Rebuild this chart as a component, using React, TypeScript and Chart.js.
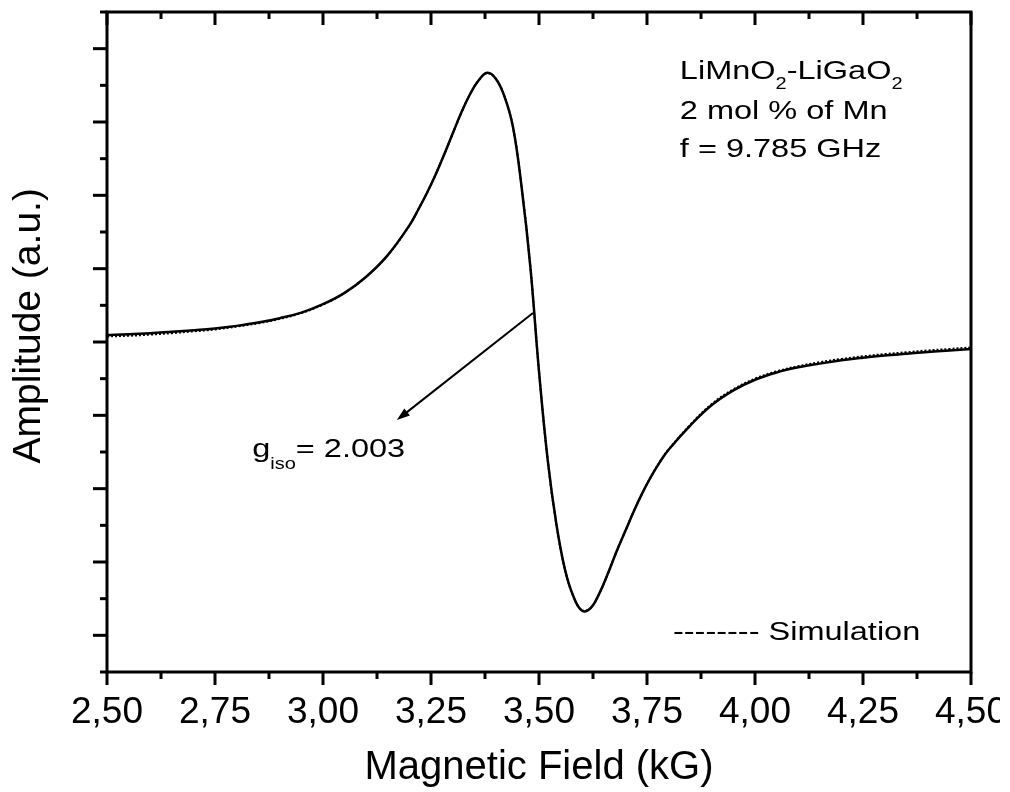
import React, { useEffect, useRef } from 'react';
import { Chart, registerables } from 'chart.js';

Chart.register(...registerables);

// ---- data ----
const fieldKG = [
  2.5, 2.55, 2.6, 2.65, 2.7, 2.75, 2.8, 2.85, 2.9, 2.95, 3.0, 3.05, 3.1, 3.15,
  3.2, 3.22, 3.24, 3.26, 3.28, 3.3, 3.32, 3.34, 3.36, 3.38, 3.4, 3.42, 3.44,
  3.46, 3.48, 3.5, 3.52, 3.54, 3.56, 3.58, 3.6, 3.62, 3.64, 3.66, 3.68, 3.7,
  3.72, 3.74, 3.76, 3.78, 3.8, 3.85, 3.9, 3.95, 4.0, 4.05, 4.1, 4.15, 4.2,
  4.25, 4.3, 4.35, 4.4, 4.45, 4.5,
];
const measured = [
  0.19, 0.21, 0.24, 0.28, 0.32, 0.37, 0.44, 0.53, 0.65, 0.8, 1.03, 1.34, 1.78, 2.37,
  3.18, 3.6, 4.05, 4.55, 5.1, 5.68, 6.25, 6.75, 7.13, 7.34, 7.18, 6.7, 5.85,
  4.2, 2.05, -0.8, -3.2, -4.95, -6.2, -6.95, -7.33, -7.25, -6.85, -6.3, -5.7, -5.15,
  -4.6, -4.1, -3.66, -3.27, -2.94, -2.28, -1.72, -1.32, -1.03, -0.83, -0.69, -0.59, -0.5,
  -0.43, -0.37, -0.32, -0.27, -0.23, -0.19,
];
const simulation = [
  0.15, 0.17, 0.2, 0.24, 0.29, 0.34, 0.42, 0.51, 0.63, 0.79, 1.02, 1.34, 1.78, 2.37,
  3.18, 3.6, 4.05, 4.55, 5.1, 5.68, 6.25, 6.75, 7.13, 7.33, 7.18, 6.7, 5.85,
  4.2, 2.05, -0.8, -3.2, -4.95, -6.2, -6.95, -7.32, -7.25, -6.85, -6.3, -5.7, -5.15,
  -4.6, -4.1, -3.66, -3.26, -2.93, -2.26, -1.69, -1.29, -1.0, -0.8, -0.66, -0.55, -0.46,
  -0.39, -0.33, -0.28, -0.23, -0.19, -0.15,
];
const xMin = 2.5;
const xMax = 4.5;
const xMajorStep = 0.25;
const xMinorStep = 0.125;
const yMin = -9;
const yMax = 9;
const infoLines = ['2 mol % of Mn', 'f = 9.785 GHz'];
const compoundParts = ['LiMnO', '2', '-LiGaO', '2'];
const gLabelParts = ['g', 'iso', '= 2.003'];
const legendText = '-------- Simulation';
const xTitle = 'Magnetic Field (kG)';
const yTitle = 'Amplitude (a.u.)';

// annotation anchors in data units
const infoAnchor = { x: 3.826, y: [7.17, 6.08, 5.05] };
const gAnchor = { x: 2.836, y: -3.14 };
const legendAnchor = { x: 3.81, y: -8.13 };
const arrowFrom = { x: 3.486, y: 0.79 };
const arrowTo = { x: 3.171, y: -2.13 };

const FONT = '"Liberation Sans", Arial, Helvetica, sans-serif';
const STRETCH = 1.25;

const framePlugin = {
  id: 'frameAndNotes',
  afterDraw(chart: any) {
    const { ctx, chartArea: a, scales } = chart;
    const xs = scales.x;
    const ys = scales.y;
    ctx.save();
    ctx.strokeStyle = '#000';
    ctx.fillStyle = '#000';
    ctx.lineWidth = 3;
    ctx.lineCap = 'butt';
    ctx.beginPath();
    ctx.rect(a.left, a.top, a.right - a.left, a.bottom - a.top);
    ctx.stroke();
    const nX = Math.round((xMax - xMin) / xMinorStep);
    for (let i = 0; i <= nX; i++) {
      const v = xMin + i * xMinorStep;
      const px = xs.getPixelForValue(v);
      const major = i % 2 === 0;
      const len = major ? 13 : 7;
      ctx.beginPath();
      ctx.moveTo(px, a.bottom);
      ctx.lineTo(px, a.bottom + len);
      ctx.moveTo(px, a.top);
      ctx.lineTo(px, a.top + len);
      ctx.stroke();
    }
    for (let v = yMin; v <= yMax; v++) {
      const py = ys.getPixelForValue(v);
      const major = Math.abs(v) % 2 === 0;
      const len = major ? 14 : 7;
      ctx.beginPath();
      ctx.moveTo(a.left - len, py);
      ctx.lineTo(a.left, py);
      ctx.stroke();
    }

    // arrow
    const x1 = xs.getPixelForValue(arrowFrom.x);
    const y1 = ys.getPixelForValue(arrowFrom.y);
    const x2 = xs.getPixelForValue(arrowTo.x);
    const y2 = ys.getPixelForValue(arrowTo.y);
    const ang = Math.atan2(y2 - y1, x2 - x1);
    ctx.lineWidth = 2;
    ctx.beginPath();
    ctx.moveTo(x1, y1);
    ctx.lineTo(x2 - 8 * Math.cos(ang), y2 - 8 * Math.sin(ang));
    ctx.stroke();
    ctx.beginPath();
    ctx.moveTo(x2, y2);
    ctx.lineTo(x2 - 13 * Math.cos(ang) + 4.5 * Math.sin(ang), y2 - 13 * Math.sin(ang) - 4.5 * Math.cos(ang));
    ctx.lineTo(x2 - 13 * Math.cos(ang) - 4.5 * Math.sin(ang), y2 - 13 * Math.sin(ang) + 4.5 * Math.cos(ang));
    ctx.closePath();
    ctx.fill();

    const drawStretched = (text: string, x: number, y: number, size: number) => {
      ctx.font = `${size}px ${FONT}`;
      ctx.textBaseline = 'alphabetic';
      ctx.textAlign = 'left';
      ctx.save();
      ctx.translate(x, y);
      ctx.scale(STRETCH, 1);
      ctx.fillText(text, 0, 0);
      ctx.restore();
      return ctx.measureText(text).width * STRETCH;
    };

    const big = 26;
    const small = 16;
    let cx = xs.getPixelForValue(infoAnchor.x);
    const by0 = ys.getPixelForValue(infoAnchor.y[0]);
    compoundParts.forEach((p, i) => {
      if (i % 2 === 1) {
        cx += drawStretched(p, cx, by0 + 10, small);
      } else {
        cx += drawStretched(p, cx, by0, big);
      }
    });
    infoLines.forEach((t, i) => {
      drawStretched(t, xs.getPixelForValue(infoAnchor.x), ys.getPixelForValue(infoAnchor.y[i + 1]), big);
    });

    let gx = xs.getPixelForValue(gAnchor.x);
    const gy = ys.getPixelForValue(gAnchor.y);
    gx += drawStretched(gLabelParts[0], gx, gy, big);
    gx += drawStretched(gLabelParts[1], gx, gy + 12, small);
    drawStretched(gLabelParts[2], gx, gy, big);

    drawStretched(legendText, xs.getPixelForValue(legendAnchor.x), ys.getPixelForValue(legendAnchor.y), big);
    ctx.restore();
  },
};

export default function App() {
  const ref = useRef<HTMLCanvasElement | null>(null);
  useEffect(() => {
    if (!ref.current) return;
    const chart = new Chart(ref.current, {
      type: 'line',
      data: {
        labels: fieldKG,
        datasets: [
          {
            label: 'Simulation',
            data: fieldKG.map((x, i) => ({ x, y: simulation[i] })),
            borderColor: '#000',
            borderWidth: 2,
            borderDash: [2, 2],
            pointRadius: 0,
            fill: false,
            tension: 0.4,
          },
          {
            label: 'Experiment',
            data: fieldKG.map((x, i) => ({ x, y: measured[i] })),
            borderColor: '#000',
            borderWidth: 2.5,
            pointRadius: 0,
            fill: false,
            tension: 0.4,
          },
        ],
      },
      options: {
        responsive: false,
        animation: false,
        devicePixelRatio: 1,
        layout: { padding: { top: 12, right: 29, left: 0, bottom: 0 } },
        plugins: { legend: { display: false }, tooltip: { enabled: false } },
        scales: {
          x: {
            type: 'linear',
            min: xMin,
            max: xMax,
            grid: { display: false },
            border: { display: false },
            ticks: {
              stepSize: xMajorStep,
              autoSkip: false,
              maxRotation: 0,
              padding: 11,
              color: '#000',
              font: { family: FONT, size: 37 },
              callback: (v: any) => Number(v).toFixed(2).replace('.', ','),
            },
            title: {
              display: true,
              text: xTitle,
              color: '#000',
              font: { family: FONT, size: 40 },
              padding: { top: 0, bottom: 0 },
            },
            afterFit: (s: any) => {
              s.height = 120;
              s.paddingLeft = 0;
              s.paddingRight = 0;
            },
          },
          y: {
            type: 'linear',
            min: yMin,
            max: yMax,
            grid: { display: false },
            border: { display: false },
            ticks: { display: false, stepSize: 1 },
            title: {
              display: true,
              text: '   ' + yTitle,
              color: '#000',
              font: { family: FONT, size: 39 },
              padding: { top: 6, bottom: 0 },
            },
            afterFit: (s: any) => {
              s.width = 107;
              s.paddingTop = 0;
              s.paddingBottom = 0;
            },
          },
        },
      },
      plugins: [framePlugin],
    } as any);
    return () => chart.destroy();
  }, []);
  return (
    <div style={{ position: 'fixed', left: 0, top: 0, width: 1010, height: 792, background: '#fff' }}>
      <canvas ref={ref} width={1000} height={792} style={{ width: 1000, height: 792, display: 'block' }} />
    </div>
  );
}
